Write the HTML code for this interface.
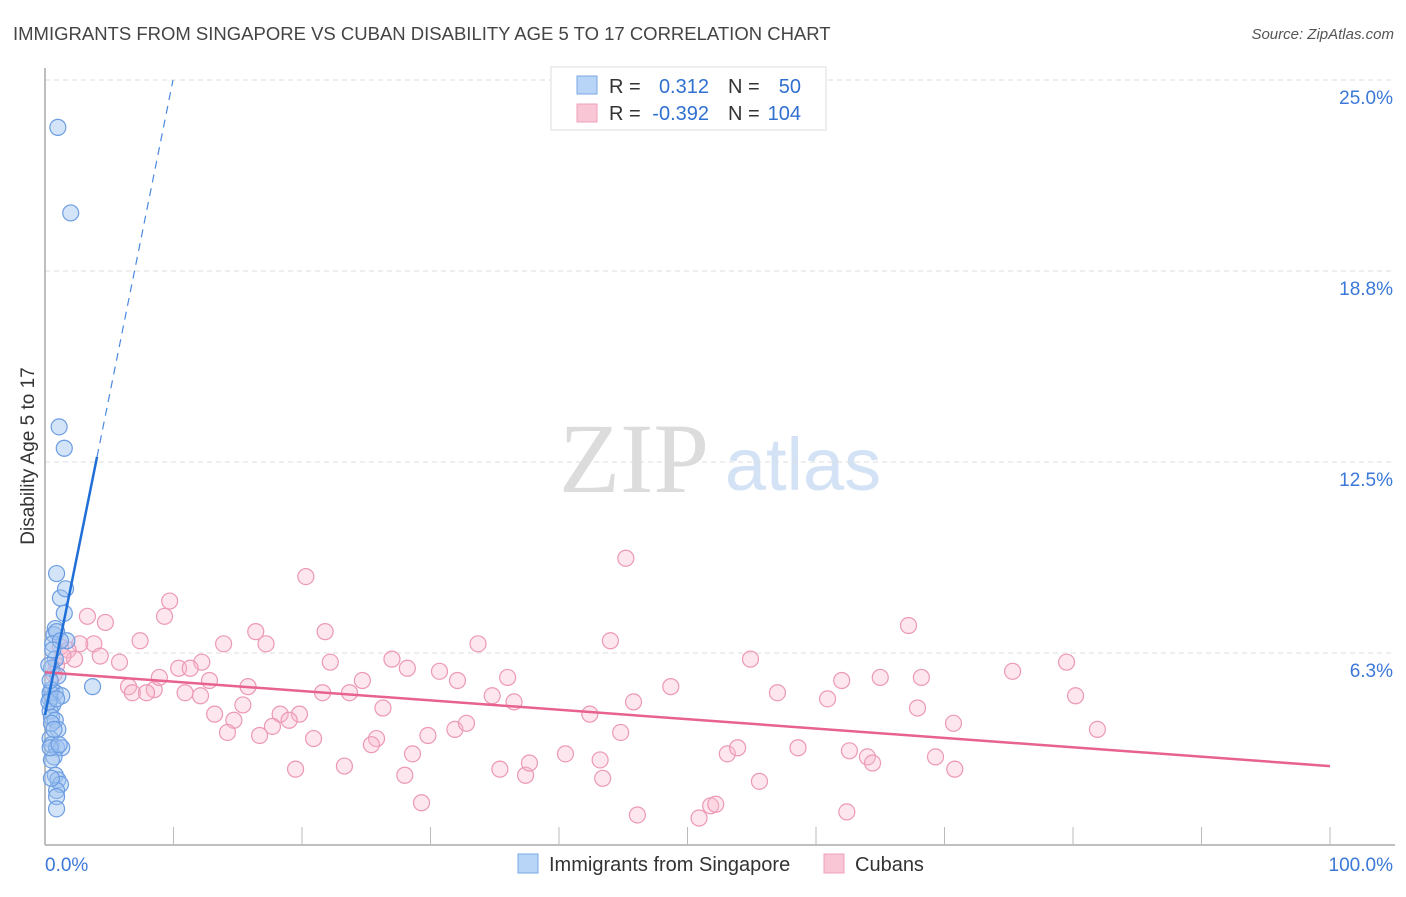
<!DOCTYPE html>
<html><head><meta charset="utf-8"><style>
body{margin:0;background:#fff;font-family:"Liberation Sans",sans-serif;}
</style></head><body>
<svg id="chart" width="1406" height="892" viewBox="0 0 1406 892" xmlns="http://www.w3.org/2000/svg" font-family="Liberation Sans, sans-serif">
<text x="13" y="40" font-size="18.5" fill="#444">IMMIGRANTS FROM SINGAPORE VS CUBAN DISABILITY AGE 5 TO 17 CORRELATION CHART</text>
<text x="1394" y="39" font-size="15" fill="#555" text-anchor="end" font-style="italic">Source: ZipAtlas.com</text>
<text transform="translate(34,456) rotate(-90)" font-size="19" fill="#333" text-anchor="middle">Disability Age 5 to 17</text>
<g>
<text x="634" y="492" style="font-family:'Liberation Serif',serif" font-size="100" fill="#dcdcdc" text-anchor="middle">ZIP</text>
<text x="803" y="490" font-size="74" fill="#d4e2f6" text-anchor="middle">atlas</text>
</g>
<g id="grid"></g>
<g id="axes"></g>
<g id="pink"></g>
<g id="blue"></g>
<g id="lines"></g>
<g>
<rect x="551" y="67" width="275" height="63" fill="#fff" stroke="#ddd"/>
<rect x="577" y="76" width="20" height="18" fill="#b8d4f6" stroke="#7aa8e6"/>
<rect x="577" y="104" width="20" height="18" fill="#f9c6d5" stroke="#eea0ba"/>
<text x="609" y="93" font-size="20" fill="#333">R =</text>
<text x="709" y="93" font-size="20" fill="#3070d0" text-anchor="end">0.312</text>
<text x="728" y="93" font-size="20" fill="#333">N =</text>
<text x="801" y="93" font-size="20" fill="#3070d0" text-anchor="end">50</text>
<text x="609" y="120" font-size="20" fill="#333">R =</text>
<text x="709" y="120" font-size="20" fill="#3070d0" text-anchor="end">-0.392</text>
<text x="728" y="120" font-size="20" fill="#333">N =</text>
<text x="801" y="120" font-size="20" fill="#3070d0" text-anchor="end">104</text>
</g>
<g>
<rect x="518" y="854" width="20" height="19" fill="#b8d4f6" stroke="#7aa8e6"/>
<text x="549" y="871" font-size="20" fill="#333">Immigrants from Singapore</text>
<rect x="824" y="854" width="20" height="19" fill="#f9c6d5" stroke="#eea0ba"/>
<text x="855" y="871" font-size="20" fill="#333">Cubans</text>
</g>
</svg>
<script>
const yTicks=[25,18.75,12.5,6.25];
const yTickLabels=["25.0%","18.8%","12.5%","6.3%"];
const xTickLabels=["0.0%","100.0%"];
const blueX=[1.0,2.0,1.1,1.5,0.9,1.2,1.6,1.5,0.8,0.7,0.9,1.7,0.6,0.8,0.5,1.0,3.7,0.5,0.8,1.3,0.4,0.6,0.4,0.5,0.8,1.0,0.4,0.5,0.9,1.3,0.7,0.5,0.8,1.0,1.2,0.9,0.9,0.9,0.4,0.4,0.3,0.5,0.9,1.2,0.6,0.3,0.7,0.4,1.1,0.5];
const blueY=[23.45,20.65,13.65,12.95,8.85,8.05,8.35,7.55,7.05,6.85,6.95,6.65,6.55,6.05,5.75,5.5,5.15,5.05,4.95,4.85,4.75,4.55,4.35,4.15,4.05,3.75,3.45,3.25,3.15,3.15,2.85,2.75,2.25,2.1,1.95,1.75,1.55,1.15,4.95,5.35,4.65,3.95,4.75,6.65,6.35,5.85,3.75,3.15,3.25,2.15];
const pinkX=[45.2,20.3,9.7,9.3,3.3,4.7,21.8,16.4,67.2,7.4,3.8,13.9,17.2,33.7,44.0,2.7,1.2,1.8,4.3,2.3,5.8,12.2,22.2,27.0,28.2,54.9,79.5,75.3,10.4,11.3,30.7,36.0,32.1,24.7,62.0,65.0,68.2,6.5,8.5,8.9,12.8,15.8,6.8,7.9,10.9,12.1,21.6,23.7,34.8,36.5,48.7,57.0,60.9,80.2,15.4,26.3,45.8,67.9,13.2,14.7,18.3,19.8,19.0,42.4,17.7,14.2,16.7,20.9,25.8,25.4,29.8,31.9,32.8,44.8,70.7,81.9,23.3,19.5,28.6,28.0,35.4,37.4,37.7,40.5,43.2,43.4,53.1,53.9,58.6,62.6,64.0,64.4,69.3,70.8,55.6,29.3,46.1,51.8,52.2,50.9,62.4,0.9,1.4,0.7];
const pinkY=[9.35,8.75,7.95,7.45,7.45,7.25,6.95,6.95,7.15,6.65,6.55,6.55,6.55,6.55,6.65,6.55,6.45,6.35,6.15,6.05,5.95,5.95,5.95,6.05,5.75,6.05,5.95,5.65,5.75,5.75,5.65,5.45,5.35,5.35,5.35,5.45,5.45,5.15,5.05,5.45,5.35,5.15,4.95,4.95,4.95,4.85,4.95,4.95,4.85,4.65,5.15,4.95,4.75,4.85,4.55,4.45,4.65,4.45,4.25,4.05,4.25,4.25,4.05,4.25,3.85,3.65,3.55,3.45,3.45,3.25,3.55,3.75,3.95,3.65,3.95,3.75,2.55,2.45,2.95,2.25,2.45,2.25,2.65,2.95,2.75,2.15,2.95,3.15,3.15,3.05,2.85,2.65,2.85,2.45,2.05,1.35,0.95,1.25,1.3,0.85,1.05,5.85,6.15,5.55];
const blueTrend=[4.22,2.086];
const blueSolidEnd=4.05, blueDashEnd=9.96;
const pinkTrend=[5.62,2.55];
const X=v=>45+v*12.85;
const Y=v=>844-v*30.56;
const NS="http://www.w3.org/2000/svg";
function mk(tag,attrs,parent){const e=document.createElementNS(NS,tag);for(const k in attrs)e.setAttribute(k,attrs[k]);parent.appendChild(e);return e;}
const grid=document.getElementById('grid');
yTicks.forEach((t,i)=>{
  const l=mk('line',{x1:45,x2:1395,y1:Y(t),y2:Y(t),stroke:'#ddd','stroke-dasharray':'5,4'},grid);
  
  
  const tx=mk('text',{x:1393,y:Y(t)+24,'font-size':19,fill:'#3b78d8','text-anchor':'end'},grid);
  tx.textContent=yTickLabels[i];
  
  
});
const axes=document.getElementById('axes');
const la=mk('line',{x1:45,x2:45,y1:68,y2:845,stroke:'#aaa','stroke-width':1.5},axes);


const ba=mk('line',{x1:45,x2:1395,y1:845,y2:845,stroke:'#aaa','stroke-width':1.5},axes);


for(let i=1;i<=10;i++){
  const t=mk('line',{x1:X(i*10),x2:X(i*10),y1:827,y2:845,stroke:'#bbb'},axes);
  
  
}
[[0,'start',45],[100,'end',1393]].forEach((d,i)=>{
  const t=mk('text',{x:d[2],y:871,'font-size':19,fill:'#3b78d8','text-anchor':d[1]},axes);
  t.textContent=xTickLabels[i];
  
  
});
const pg=document.getElementById('pink');
pinkX.forEach((x,i)=>{
  const c=mk('circle',{cx:X(x),cy:Y(pinkY[i]),r:8,fill:'rgba(248,182,202,0.35)',stroke:'#ec98b6','stroke-width':1.2},pg);
  
  
});
const bg=document.getElementById('blue');
blueX.forEach((x,i)=>{
  const c=mk('circle',{cx:X(x),cy:Y(blueY[i]),r:8,fill:'rgba(160,196,240,0.45)',stroke:'#6c9de2','stroke-width':1.2},bg);
  
  
});
const lg=document.getElementById('lines');
const pl=mk('line',{x1:X(0),y1:Y(pinkTrend[0]),x2:X(100),y2:Y(pinkTrend[1]),stroke:'#e8628f','stroke-width':2.5},lg);


const bs=mk('line',{x1:X(0),y1:Y(blueTrend[0]),x2:X(blueSolidEnd),y2:Y(blueTrend[0]+blueTrend[1]*blueSolidEnd),stroke:'#1f6fd6','stroke-width':2.5},lg);


const bd=mk('line',{x1:X(blueSolidEnd),y1:Y(blueTrend[0]+blueTrend[1]*blueSolidEnd),x2:X(blueDashEnd),y2:Y(blueTrend[0]+blueTrend[1]*blueDashEnd),stroke:'#4a88e0','stroke-width':1.2,'stroke-dasharray':'8,6'},lg);


</script>
</body></html>
